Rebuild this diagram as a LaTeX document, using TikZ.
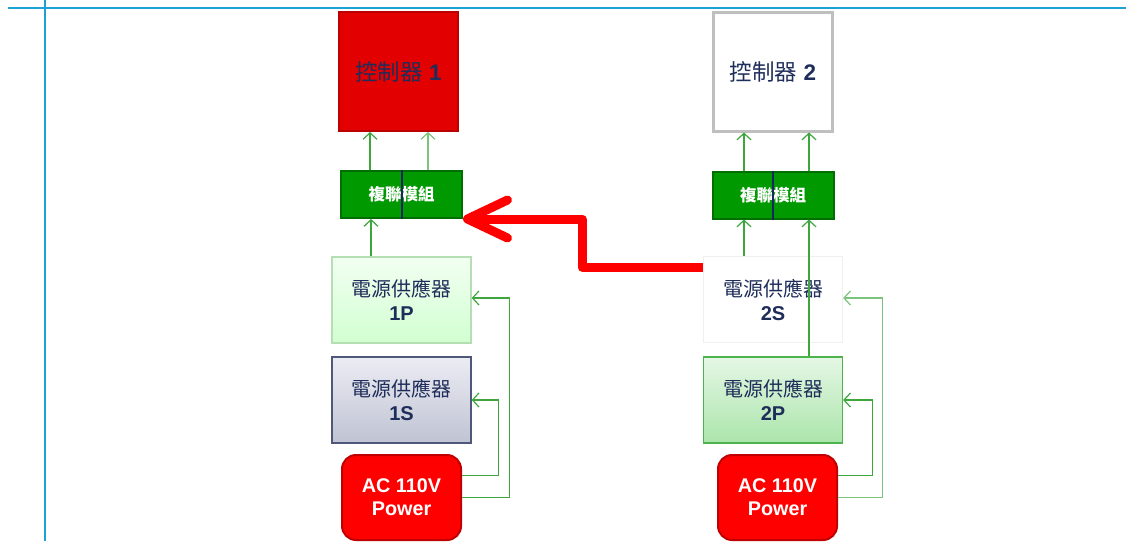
\documentclass[tikz,border=0pt]{standalone}
\usepackage{fontspec}
\setmainfont{Liberation Sans}
\newfontfamily\cjk{Noto Sans CJK TC}
\usetikzlibrary{arrows.meta}
\definecolor{bluel}{HTML}{1BA1D2}
\definecolor{navy}{HTML}{1F2D5A}
\definecolor{ctrlred}{HTML}{E30000}
\definecolor{ctrlredb}{HTML}{BA0000}
\definecolor{muxg}{HTML}{009A00}
\definecolor{muxgb}{HTML}{006E00}
\definecolor{gline}{HTML}{3DA63D}
\definecolor{glinel}{HTML}{7CC47C}
\definecolor{acred}{HTML}{FF0000}
\definecolor{acredb}{HTML}{C00000}
\definecolor{divnavy}{HTML}{1A2660}
\tikzset{
  ctrlbox/.style={draw, minimum width=119pt, minimum height=119pt, text=navy,
    font=\fontsize{22.5}{26}\selectfont},
  muxbox/.style={draw=muxgb, fill=muxg, line width=2pt, minimum width=121pt, minimum height=47pt,
    text=white, font=\cjk\bfseries\fontsize{16.5}{18}\selectfont},
  psubox/.style={draw, line width=1.3pt, minimum width=139pt, minimum height=86pt, text=navy,
    align=center, font=\fontsize{20}{24}\selectfont},
  acbox/.style={draw=acredb, fill=acred, line width=2pt, rounded corners=14pt,
    minimum width=119pt, minimum height=85pt, text=white, align=center,
    font=\bfseries\fontsize{19.8}{23}\selectfont},
  garrow/.style={draw=gline, line width=1.2pt, -{Straight Barb[length=6.5pt,width=14pt]}},
  garrowl/.style={draw=glinel, line width=1.2pt, -{Straight Barb[length=6.5pt,width=14pt]}},
  redarrow/.style={draw=acred, line width=9pt, line join=round,
    -{Straight Barb[length=40pt,width=38pt,round]}},
}
\begin{document}
\begin{tikzpicture}[x=1pt,y=-1pt]
\useasboundingbox (0,0) rectangle (1126,541);
\fill[white] (0,0) rectangle (1126,541);
% frame lines
\coordinate (hl0) at (8,7.5);
\coordinate (hl1) at (1126,7.5);
\coordinate (vl0) at (45,0);
\coordinate (vl1) at (45,541);
\draw[bluel, line width=2pt] (hl0) -- (hl1);
\draw[bluel, line width=2pt] (vl0) -- (vl1);

% controllers
\node[ctrlbox, fill=ctrlred, draw=ctrlredb, line width=2pt] (ctrl1) at (398.5,71.5)
  {{\cjk 控制器} \textbf{1}};
\node[ctrlbox, fill=white, draw=black!25, line width=3pt] (ctrl2) at (773,71.5)
  {{\cjk 控制器} \textbf{2}};

% mux modules
\node[muxbox] (mux1) at (401.5,194.5) {複聯模組};
\draw[divnavy, line width=2pt] (mux1.north) -- (mux1.south);
\node[muxbox] (mux2) at (773,195) {複聯模組};
\draw[divnavy, line width=2pt] (mux2.north) -- (mux2.south);

% power supplies
\node[psubox, top color=green!5, bottom color=green!18!white,
  draw={rgb,255:red,181;green,222;blue,181}] (psu1p) at (401.5,300)
  {{\cjk 電源供應器}\\\textbf{1P}};
\node[psubox, top color={rgb,255:red,236;green,236;blue,243},
  bottom color={rgb,255:red,191;green,195;blue,211},
  draw={rgb,255:red,79;green,88;blue,120}] (psu1s) at (401.5,400)
  {{\cjk 電源供應器}\\\textbf{1S}};
\node[psubox, fill=white, draw=black!6] (psu2s) at (773,299.5)
  {{\cjk 電源供應器}\\\textbf{2S}};
\node[psubox, top color={rgb,255:red,229;green,247;blue,229},
  bottom color={rgb,255:red,171;green,229;blue,171},
  draw={rgb,255:red,77;green,179;blue,77}] (psu2p) at (773,400)
  {{\cjk 電源供應器}\\\textbf{2P}};

% AC power
\node[acbox] (ac1) at (401.5,497.5) {AC 110V\\Power};
\node[acbox] (ac2) at (777.5,497.5) {AC 110V\\Power};

% mux -> controllers
\draw[garrow]  ([xshift=-31.5pt]mux1.north) -- ([xshift=-31.5pt]mux1.north |- ctrl1.south);
\draw[garrowl] ([xshift=26.5pt]mux1.north) -- ([xshift=26.5pt]mux1.north |- ctrl1.south);
\draw[garrow]  ([xshift=-29pt]mux2.north) -- ([xshift=-29pt]mux2.north |- ctrl2.south);
\draw[garrow]  ([xshift=36pt]mux2.north) -- ([xshift=36pt]mux2.north |- ctrl2.south);

% psu -> mux
\draw[garrow] ([xshift=-30.5pt]mux1.south |- psu1p.north) -- ([xshift=-30.5pt]mux1.south);
\draw[garrow] ([xshift=-29pt]mux2.south |- psu2s.north) -- ([xshift=-29pt]mux2.south);
\draw[garrow] ([xshift=36pt]mux2.south |- psu2p.north) -- ([xshift=36pt]mux2.south);

% AC feeds
\draw[garrow] ([yshift=22pt]ac1.east) -| ([xshift=27pt]psu1s.east) -- (psu1s.east);
\draw[garrow] (ac1.east) -| ([xshift=38pt,yshift=2pt]psu1p.east) -- ([yshift=2pt]psu1p.east);
\draw[garrow] ([yshift=22pt]ac2.east) -| ([xshift=29pt]psu2p.east) -- (psu2p.east);
\draw[garrowl] (ac2.east) -| ([xshift=39pt,yshift=1.5pt]psu2s.east) -- ([yshift=1.5pt]psu2s.east);

% red crossover arrow
\draw[redarrow] ([yshift=32.5pt]psu2s.west) -| ([xshift=119pt]mux1.south east) -- (mux1.south east);
\end{tikzpicture}
\end{document}
